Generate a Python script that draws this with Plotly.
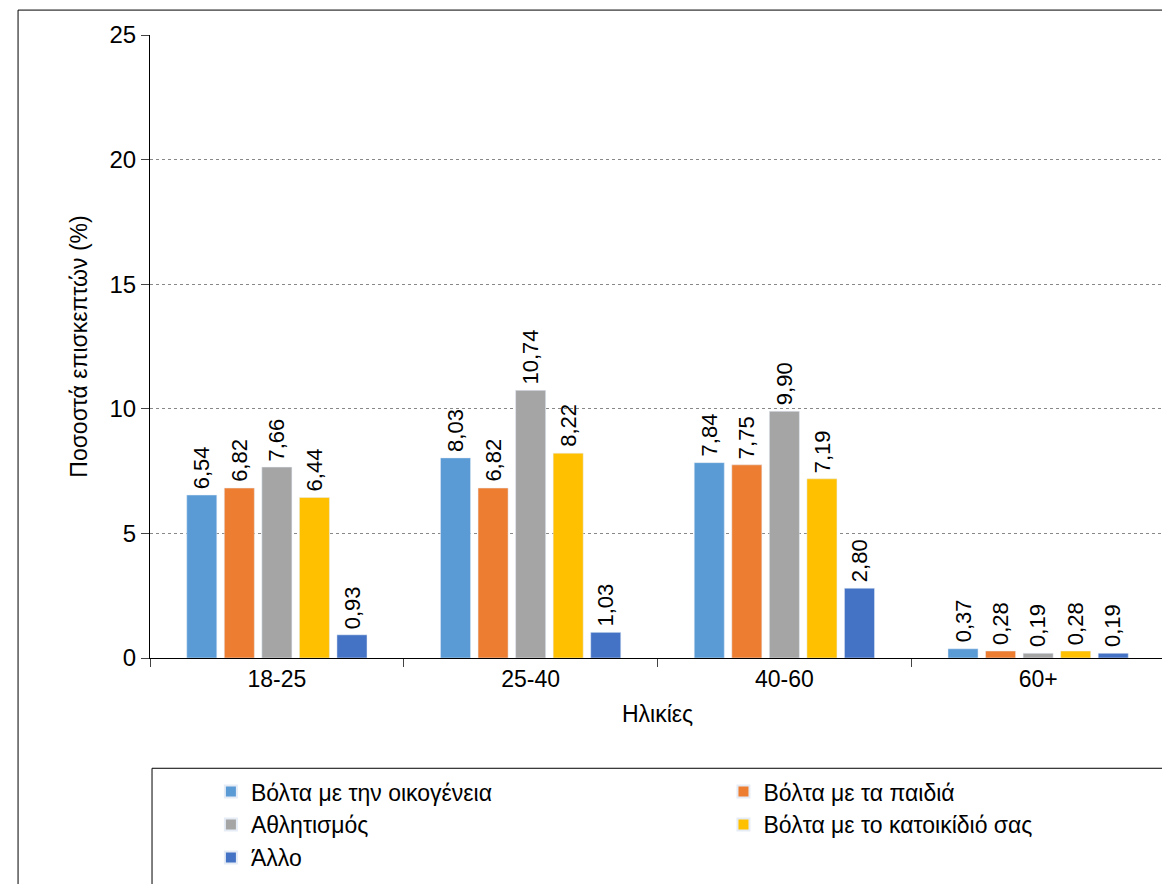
import plotly.graph_objects as go

ages = ["18-25", "25-40", "40-60", "60+"]
series = ["Βόλτα με την οικογένεια", "Βόλτα με τα παιδιά", "Αθλητισμός",
          "Βόλτα με το κατοικίδιό σας", "Άλλο"]
values = [
    [6.54, 8.03, 7.84, 0.37],
    [6.82, 6.82, 7.75, 0.28],
    [7.66, 10.74, 9.90, 0.19],
    [6.44, 8.22, 7.19, 0.28],
    [0.93, 1.03, 2.80, 0.19],
]
colors = ["#5B9BD5", "#ED7D31", "#A5A5A5", "#FFC000", "#4472C4"]

bargap = 0.26
slot = (1 - bargap) / len(series)

fig = go.Figure()
for j, (name, vals, col) in enumerate(zip(series, values, colors)):
    fig.add_trace(go.Bar(x=ages, y=vals, name=name, marker_color=col,
                         legend="legend" if j % 2 == 0 else "legend2"))
    off = -(1 - bargap) / 2 + slot * (j + 0.5)
    for i, v in enumerate(vals):
        fig.add_annotation(x=i + off, y=v, text=f"{v:.2f}".replace(".", ","),
                           textangle=-90, showarrow=False, yanchor="bottom",
                           yshift=4, font=dict(size=22, color="black"))

leg = dict(orientation="v", yanchor="top", font=dict(size=23), tracegroupgap=0,
           itemsizing="constant")
fig.update_layout(
    width=1170, height=884, barmode="group", bargap=bargap, bargroupgap=0.2,
    plot_bgcolor="white", paper_bgcolor="white",
    margin=dict(l=142, r=13, t=27, b=234, autoexpand=False),
    font=dict(family="Liberation Sans, Arial", size=22, color="black"),
    legend=dict(x=0.06, y=-0.18, **leg),
    legend2=dict(x=0.565, y=-0.18, **leg),
)
fig.update_yaxes(range=[0, 25], dtick=5, showgrid=True, gridcolor="#888",
                 griddash="dot", showline=True, linecolor="black",
                 ticks="outside", ticklen=8, tickfont=dict(size=24),
                 title=dict(text="Ποσοστά επισκεπτών (%)", font=dict(size=23)))
fig.update_xaxes(showline=True, linecolor="black", ticks="outside",
                 tickson="boundaries", ticklen=8, tickfont=dict(size=23),
                 title=dict(text="Ηλικίες", font=dict(size=23), standoff=15))
fig.add_shape(type="rect", xref="paper", yref="paper",
              x0=0.002, x1=1, y0=-0.39, y1=-0.177,
              line=dict(color="black", width=1))
fig.add_shape(type="rect", xref="paper", yref="paper",
              x0=-0.13, x1=1.002, y0=-0.39, y1=1.04,
              line=dict(color="black", width=1))
fig.write_html("out.html")
